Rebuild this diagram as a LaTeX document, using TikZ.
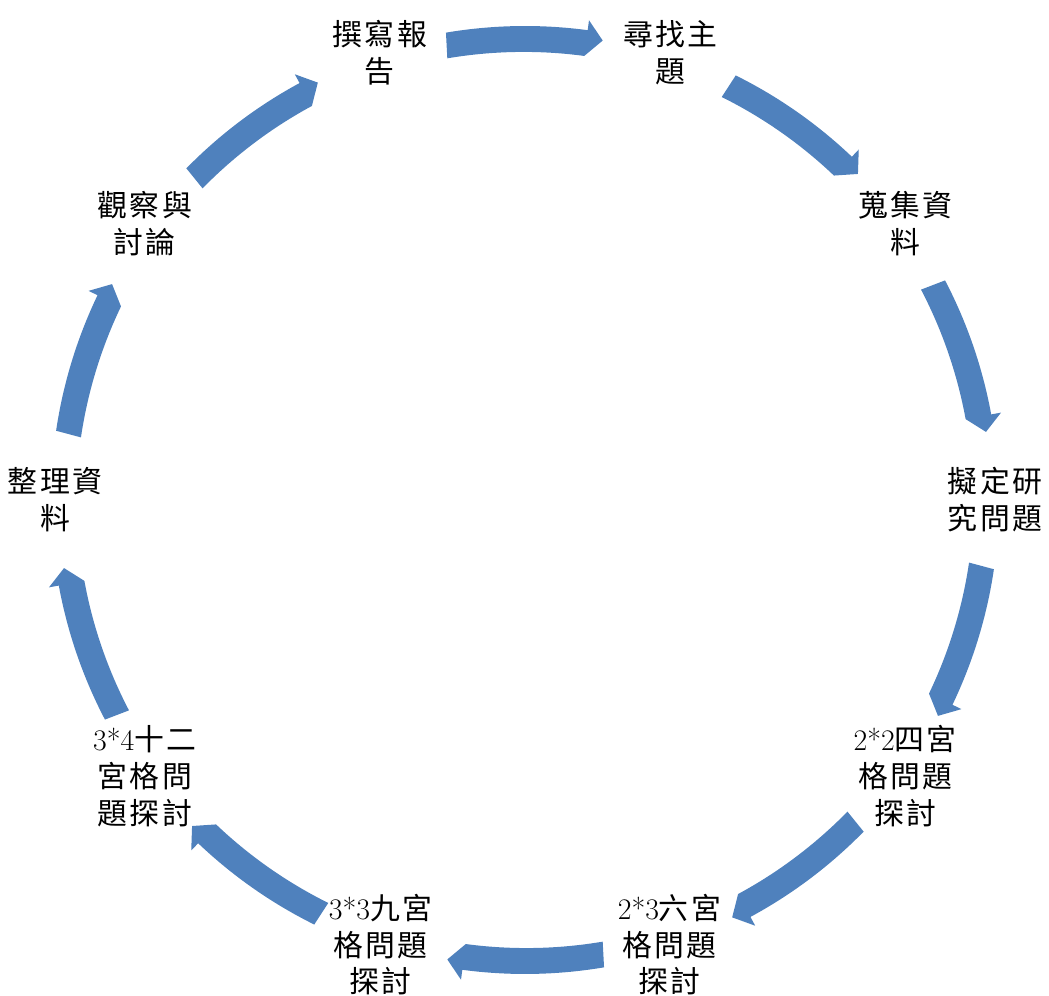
\documentclass[tikz,border=0pt]{standalone}
\usepackage{fontspec}
\newfontfamily\cjk{Noto Sans CJK TC}[LetterSpace=8]
\usepackage{tikz}

\definecolor{cycblue}{HTML}{4F81BD}

\begin{document}
\begin{tikzpicture}[
    lbl/.style={align=center, inner sep=0pt, font=\cjk\fontsize{17}{21}\selectfont},
    cycarrow/.pic={
      \fill[cycblue] (99.6:9.48) arc[start angle=99.6, end angle=82.4, radius=9.48]
        -- (82.4:9.68) -- (80.4:9.32) -- (82.4:8.96)
        arc[start angle=82.4, end angle=99.6, radius=9.16] -- cycle;
    },
  ]
  \useasboundingbox (0,0) rectangle (20.98,19.92);

  \begin{scope}[shift={(10.5,9.92)}]
  % --- Steps ---
  \node[lbl] (report)  at (108:9.4) {撰寫報\\告};
  \node[lbl] (topic)   at (72:9.4)  {尋找主\\題};
  \node[lbl] (collect) at (36:9.4)  {蒐集資\\料};
  \node[lbl] (pose)    at (0:9.4)   {擬定研\\究問題};
  \node[lbl] (grid22)  at (-36:9.4) {{\rmfamily 2*2}四宮\\格問題\\探討};
  \node[lbl] (grid23)  at (-72:9.35) {{\rmfamily 2*3}六宮\\格問題\\探討};
  \node[lbl] (grid33)  at (-108:9.35) {{\rmfamily 3*3}九宮\\格問題\\探討};
  \node[lbl] (grid34)  at (-144:9.4) {{\rmfamily 3*4}十二\\宮格問\\題探討};
  \node[lbl] (sort)    at (180:9.4) {整理資\\料};
  \node[lbl] (discuss) at (144:9.4) {觀察與\\討論};

  % --- Arrows between steps (clockwise) ---
  \pic[rotate=0]    {cycarrow};
  \pic[rotate=-36]  {cycarrow};
  \pic[rotate=-72]  {cycarrow};
  \pic[rotate=-108] {cycarrow};
  \pic[rotate=-144] {cycarrow};
  \pic[rotate=180]  {cycarrow};
  \pic[rotate=144]  {cycarrow};
  \pic[rotate=108]  {cycarrow};
  \pic[rotate=72]   {cycarrow};
  \pic[rotate=36]   {cycarrow};
  \end{scope}

\end{tikzpicture}
\end{document}
